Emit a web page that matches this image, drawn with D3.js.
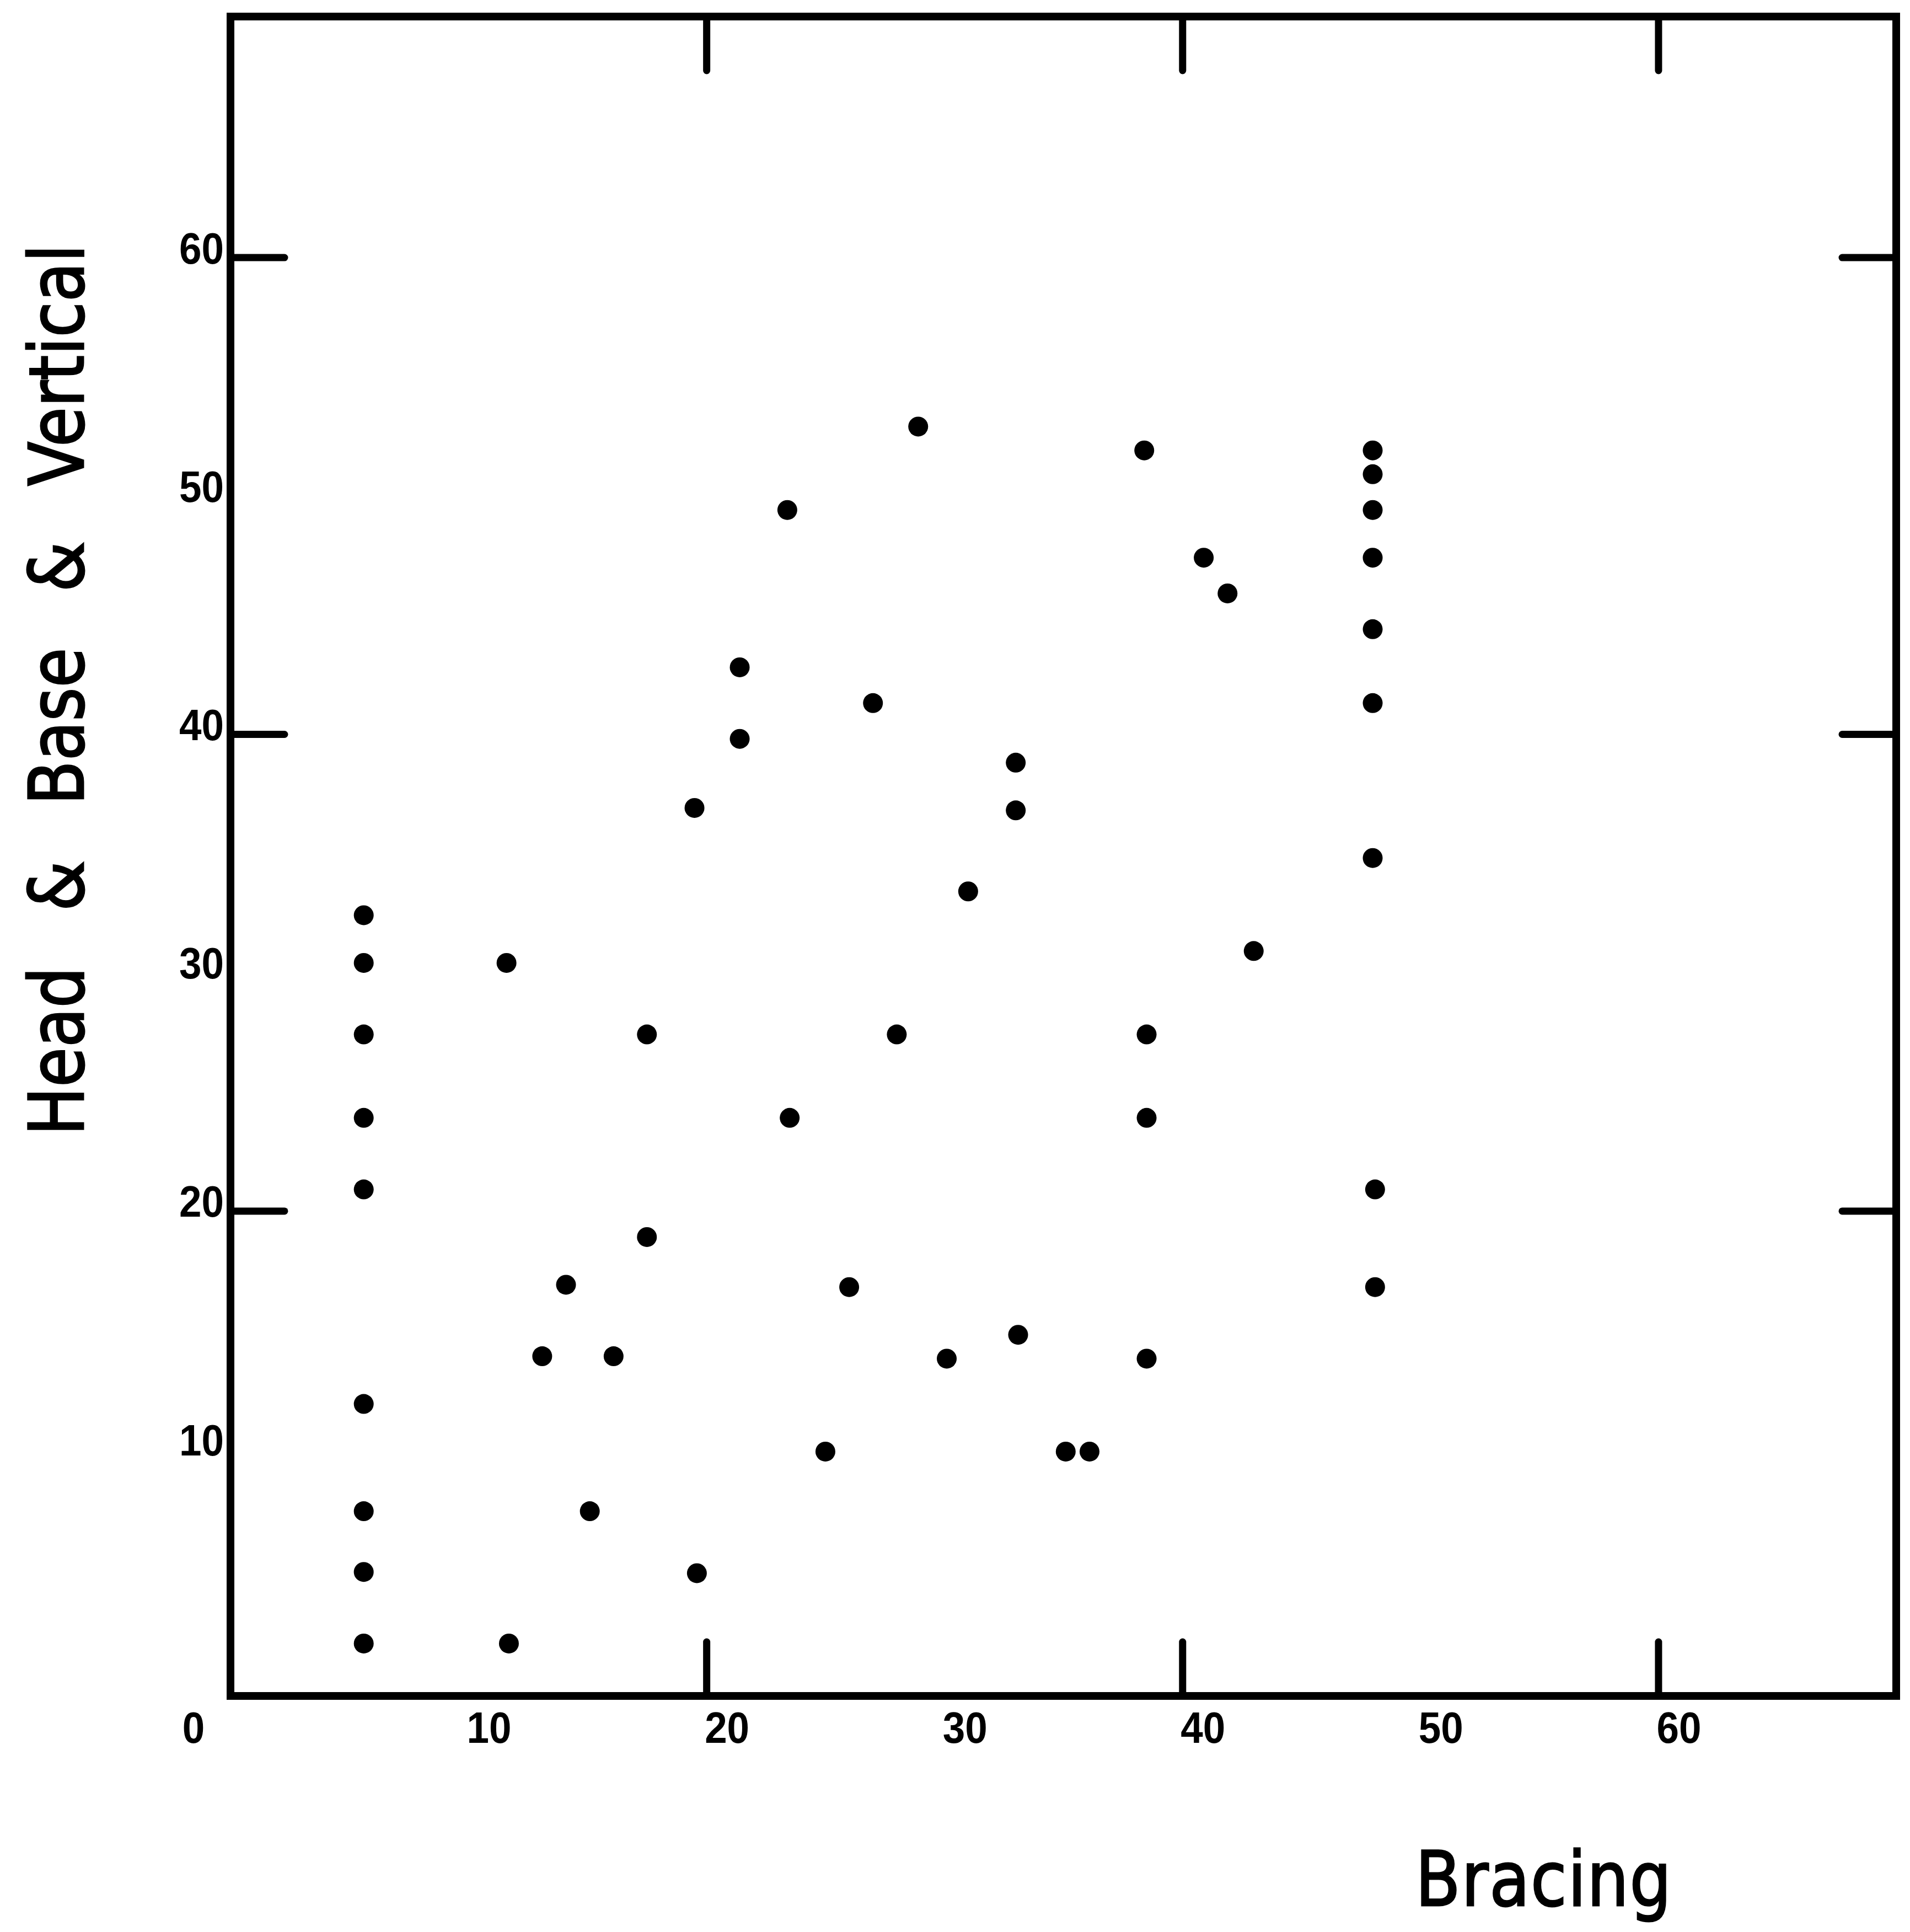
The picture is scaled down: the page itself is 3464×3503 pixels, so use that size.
<!DOCTYPE html>
<html>
<head>
<meta charset="utf-8">
<script src="https://cdn.jsdelivr.net/npm/d3@7"></script>
<style>
	html, body { margin: 0; padding: 0; background: #fff; }
	svg { display: block; }
</style>
</head>
<body>
<svg id="chart" width="3464" height="3503"></svg>
<script>
// --- Data ---
const bracing = [
	5.6, 5.6, 5.6, 5.6, 5.6, 5.6, 5.6, 5.6, 5.6,
	11.6, 11.7, 13.1, 14.1, 15.1, 16.1, 17.5, 17.5, 19.5, 19.6,
	21.4, 21.4, 23.4, 23.5, 25.0, 26.0, 27.0, 28.0, 28.9, 30.1,
	31.0, 33.0, 33.0, 33.1, 35.1, 36.1, 38.4, 38.5, 38.5, 38.5,
	40.9, 41.9, 43.0,
	48.0, 48.0, 48.0, 48.0, 48.0, 48.0, 48.0, 48.1, 48.1
];
const headBaseVertical = [
	32.4, 30.4, 27.4, 23.9, 20.9, 11.9, 7.4, 4.85, 1.85,
	30.4, 1.85, 13.9, 16.9, 7.4, 13.9, 27.4, 18.9, 36.9, 4.8,
	42.8, 39.8, 49.4, 23.9, 9.9, 16.8, 41.3, 27.4, 52.9, 13.8,
	33.4, 38.8, 36.8, 14.8, 9.9, 9.9, 51.9, 27.4, 23.9, 13.8,
	47.4, 45.9, 30.9,
	51.9, 50.9, 49.4, 47.4, 44.4, 41.3, 34.8, 20.9, 16.8
];
const majorTicks = [20, 40, 60];
const xLabels = [10, 20, 30, 40, 50, 60];
const yLabels = [10, 20, 30, 40, 50, 60];
const xTitle = "Bracing";
const yTitle = "Head & Base & Vertical";

// -------------------------
// Scales & frame
// -------------------------
const svg = d3.select("#chart");
const X_MIN = 0, X_MAX = 70;
const Y_MIN = -0.35, Y_MAX = 70.1;
const x = d3.scaleLinear().domain([X_MIN, X_MAX]).range([418, 3439]);
const y = d3.scaleLinear().domain([Y_MIN, Y_MAX]).range([3075, 30]);

const INK = "#000";
const FRAME_W = 14;
const TICK_W = 13;
const TICK_LEN = 98;
const DOT_R = 18;

svg.append("rect")
	.attr("width", 3464).attr("height", 3503)
	.attr("fill", "#fff");

// tick marks on all four sides, pointing inward
const styleTicks = (g) => {
	g.select(".domain").remove();
	g.selectAll(".tick line")
		.attr("stroke", INK)
		.attr("stroke-width", TICK_W)
		.attr("stroke-linecap", "round");
};

svg.append("g")
	.attr("transform", `translate(0,${y(Y_MIN)})`)
	.call(d3.axisBottom(x).tickValues(majorTicks).tickSize(-TICK_LEN).tickFormat(""))
	.call(styleTicks);
svg.append("g")
	.attr("transform", `translate(0,${y(Y_MAX)})`)
	.call(d3.axisTop(x).tickValues(majorTicks).tickSize(-TICK_LEN).tickFormat(""))
	.call(styleTicks);
svg.append("g")
	.attr("transform", `translate(${x(X_MIN)},0)`)
	.call(d3.axisLeft(y).tickValues(majorTicks).tickSize(-TICK_LEN).tickFormat(""))
	.call(styleTicks);
svg.append("g")
	.attr("transform", `translate(${x(X_MAX)},0)`)
	.call(d3.axisRight(y).tickValues(majorTicks).tickSize(-TICK_LEN).tickFormat(""))
	.call(styleTicks);

svg.append("rect")
	.attr("x", x(X_MIN))
	.attr("y", y(Y_MAX))
	.attr("width", x(X_MAX) - x(X_MIN))
	.attr("height", y(Y_MIN) - y(Y_MAX))
	.attr("fill", "none")
	.attr("stroke", INK)
	.attr("stroke-width", FRAME_W);

// -------------------------
// Tick labels (bold, a little condensed like the plotter font)
// -------------------------
const LABEL_SQUEEZE = 0.91;
const labels = svg.append("g")
	.attr("font-family", "'Liberation Sans', Arial, sans-serif")
	.attr("font-weight", "bold")
	.attr("font-size", 80)
	.attr("fill", INK);

labels.selectAll("text.xl")
	.data(xLabels)
	.enter()
	.append("text")
	.attr("class", "xl")
	.attr("transform", (d) => `translate(${x(d) - 3},3160) scale(${LABEL_SQUEEZE},1)`)
	.attr("text-anchor", "start")
	.text((d) => d);

// the shared origin label sits off the corner
labels.append("text")
	.attr("transform", `translate(${x(0) - 67},3160) scale(${LABEL_SQUEEZE},1)`)
	.attr("text-anchor", "middle")
	.text("0");

labels.selectAll("text.yl")
	.data(yLabels)
	.enter()
	.append("text")
	.attr("class", "yl")
	.attr("transform", (d) => `translate(406,${y(d) + 11}) scale(${LABEL_SQUEEZE},1)`)
	.attr("text-anchor", "end")
	.text((d) => d);

// -------------------------
// Points
// -------------------------
svg.append("g")
	.selectAll("circle")
	.data(d3.zip(bracing, headBaseVertical))
	.enter()
	.append("circle")
	.attr("cx", (d) => x(d[0]))
	.attr("cy", (d) => y(d[1]))
	.attr("r", DOT_R)
	.attr("fill", INK);

// -------------------------
// Axis titles (slight stroke to match the heavier pen weight)
// -------------------------
svg.append("text")
	.attr("transform", "translate(2800,3455) scale(0.87,1)")
	.attr("text-anchor", "middle")
	.attr("font-family", "'DejaVu Sans', sans-serif")
	.attr("font-size", 137)
	.attr("letter-spacing", 2)
	.attr("fill", INK)
	.attr("stroke", INK)
	.attr("stroke-width", 3)
	.text(xTitle);

svg.append("text")
	.attr("transform", "translate(151,1251) rotate(-90) scale(0.854,1)")
	.attr("text-anchor", "middle")
	.attr("font-family", "'DejaVu Sans', sans-serif")
	.attr("font-size", 137)
	.attr("word-spacing", 75)
	.attr("fill", INK)
	.attr("stroke", INK)
	.attr("stroke-width", 3)
	.text(yTitle);
</script>
</body>
</html>
